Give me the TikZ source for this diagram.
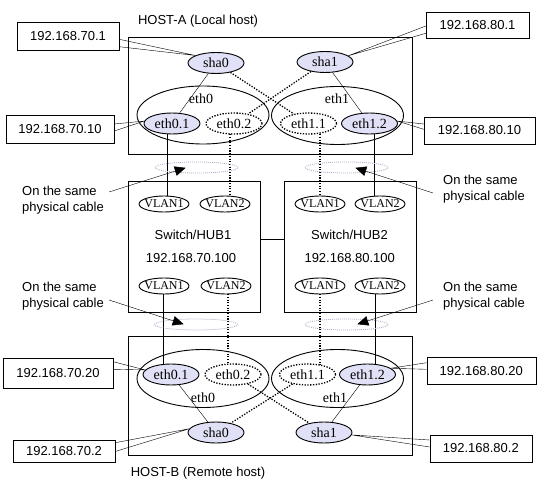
\documentclass[tikz,border=0pt]{standalone}
\usepackage{fontspec}
\setmainfont{Liberation Serif}
\setsansfont{Liberation Sans}
\usetikzlibrary{shapes.geometric,calc}
\pgfdeclarelayer{bg}
\pgfsetlayers{bg,main}
\definecolor{ifcol}{RGB}{224,224,246}
\definecolor{cloudc}{RGB}{175,175,200}
\newcommand{\pointer}[2]{%
  \draw (#1) -- ($(#2)!8pt!(#1)$);
  \filldraw[line width=0.5pt,line join=miter] (#2) -- ($(#2)!10pt!(#1)!4.5pt!90:(#2)$) -- ($(#2)!10pt!(#1)!4.5pt!-90:(#2)$) -- cycle;}
\begin{document}
\begin{tikzpicture}[x=1pt,y=-1pt,line width=0.9pt,
  every node/.style={font=\sffamily\fontsize{13}{16}\selectfont,inner sep=0pt},
  ifc/.style={ellipse,draw,fill=ifcol,font=\rmfamily\fontsize{14}{15}\selectfont,minimum width=56pt,minimum height=21pt},
  ifd/.style={ellipse,draw,fill=white,line width=1.3pt,dash pattern=on 1.3pt off 1.5pt,font=\rmfamily\fontsize{14}{15}\selectfont,minimum width=56pt,minimum height=21pt},
  grp/.style={ellipse,draw,minimum width=132pt,minimum height=58pt},
  grplabel/.style={font=\rmfamily\fontsize{14}{15}\selectfont},
  vlan/.style={ellipse,draw,fill=white,inner xsep=-6pt,font=\rmfamily\fontsize{12}{14}\selectfont,minimum width=50pt,minimum height=16pt},
  ipbox/.style={draw,fill=white},
  frame/.style={draw},
  dots/.style={line width=1.3pt,dash pattern=on 1.3pt off 1.5pt},
  vdots/.style={line width=1.1pt,dash pattern=on 1.1pt off 1.6pt},
  cab/.style={ellipse,draw=cloudc,line width=0.8pt,dash pattern=on 1pt off 1pt,minimum width=83pt,minimum height=11pt},
  note/.style={align=left,anchor=west}
]
\useasboundingbox (0,0) rectangle (551,494);

% host frames
\node[frame,minimum width=284pt,minimum height=116.5pt] (hostA) at (270.5,95.75) {};
\node[frame,minimum width=284pt,minimum height=118.5pt] (hostB) at (270.5,395.75) {};
\node (hostAl) at (198,21) {HOST-A (Local host)};
\node (hostBl) at (198,473) {HOST-B (Remote host)};

% switches
\node[frame,minimum width=132pt,minimum height=130.5pt] (sw1) at (194,247) {};
\node[frame,minimum width=132.7pt,minimum height=130.5pt] (sw2) at (350.35,247) {};
\node (sw1n) at (193,235) {Switch/HUB1};
\node (sw1i) at (191,258) {192.168.70.100};
\node (sw2n) at (349.5,235) {Switch/HUB2};
\node (sw2i) at (349.7,258) {192.168.80.100};
\draw ([yshift=8pt]sw1.east) -- ([yshift=8pt]sw2.west);

\node[vlan] (v1a) at (164,204) {VLAN1};
\node[vlan] (v2a) at (225,204) {VLAN2};
\node[vlan] (v3a) at (320,204) {VLAN1};
\node[vlan] (v4a) at (380,204) {VLAN2};
\node[vlan] (v1b) at (164,286) {VLAN1};
\node[vlan] (v2b) at (226,286) {VLAN2};
\node[vlan] (v3b) at (320,286) {VLAN1};
\node[vlan] (v4b) at (380,286) {VLAN2};

% host A interfaces
\node[grp] (eth0a) at (203,115) {};
\node[grp] (eth1a) at (337.5,115.5) {};
\node[grplabel] (eth0al) at (201,99) {eth0};
\node[grplabel] (eth1al) at (337,99) {eth1};
\node[ifc] (sha0a) at (216,63) {sha0};
\node[ifc] (sha1a) at (325,62) {sha1};
\node[ifc] (eth01a) at (172,123.5) {eth0.1};
\node[ifd] (eth02a) at (234,123.5) {eth0.2};
\node[ifd] (eth11a) at (308.5,123.5) {eth1.1};
\node[ifc] (eth12a) at (369.5,123.5) {eth1.2};

% host B interfaces
\node[grp] (eth0b) at (203,378.5) {};
\node[grp] (eth1b) at (337.5,378.5) {};
\node[grplabel] (eth0bl) at (203,398) {eth0};
\node[grplabel] (eth1bl) at (335,398) {eth1};
\node[ifc] (sha0b) at (216,432.5) {sha0};
\node[ifc] (sha1b) at (324,432.5) {sha1};
\node[ifc] (eth01b) at (171,374.5) {eth0.1};
\node[ifd] (eth02b) at (233,374.5) {eth0.2};
\node[ifd] (eth11b) at (307.5,374.5) {eth1.1};
\node[ifc] (eth12b) at (367.5,374.5) {eth1.2};

% vertical cables (behind nodes)
\begin{pgfonlayer}{bg}
\draw (eth01a -| 167,0) -- (v1a -| 167,0);
\draw[vdots] (eth02a -| 230,0) -- (v2a -| 230,0);
\draw[vdots] (eth11a -| 320,0) -- (v3a -| 320,0);
\draw (eth12a -| 374.5,0) -- (v4a -| 374.5,0);
\draw (v1b -| 163,0) -- (eth01b -| 163,0);
\draw[vdots] (v2b -| 228,0) -- (eth02b -| 228,0);
\draw[vdots] (v3b -| 320,0) -- (eth11b -| 320,0);
\draw (v4b -| 375,0) -- (eth12b -| 375,0);
\end{pgfonlayer}

% logical links
\draw (sha0a) -- (eth01a);
\draw (sha1a) -- (eth12a);
\draw[dots] (sha0a) -- (eth11a);
\draw[dots] (sha1a) -- (eth02a);
\draw (eth01b) -- (sha0b);
\draw (eth12b) -- (sha1b);
\draw[dots] (eth02b) -- (sha1b);
\draw[dots] (eth11b) -- (sha0b);

% cables (cloud outlines)
\node[cab] (cl1) at (196.5,167.5) {};
\node[cab] (cl2) at (346.5,167.5) {};
\node[cab] (cl3) at (196,324.5) {};
\node[cab] (cl4) at (346.5,324.5) {};

% notes
\node[note] (n1) at (22,200.5) {On the same\\physical cable};
\node[note] (n2) at (443,189) {On the same\\physical cable};
\node[note] (n3) at (22,296) {On the same\\physical cable};
\node[note] (n4) at (443,296) {On the same\\physical cable};
\coordinate (n1s) at (109,192);
\coordinate (n2s) at (433,193);
\coordinate (n3s) at (109,300);
\coordinate (n4s) at (433,300);
\coordinate (cl1t) at (185,168);
\coordinate (cl2t) at (356,168);
\coordinate (cl3t) at (183,324);
\coordinate (cl4t) at (358,324);
\pointer{n1s}{cl1t}
\pointer{n2s}{cl2t}
\pointer{n3s}{cl3t}
\pointer{n4s}{cl4t}

% address boxes
\node[ipbox,minimum width=102pt,minimum height=28pt] (b1) at (68,36) {192.168.70.1};
\node[ipbox,minimum width=108pt,minimum height=28pt] (b2) at (60,129) {192.168.70.10};
\node[ipbox,minimum width=103pt,minimum height=26pt] (b3) at (477.5,25) {192.168.80.1};
\node[ipbox,minimum width=111pt,minimum height=27pt] (b4) at (479.5,130.5) {192.168.80.10};
\node[ipbox,minimum width=110pt,minimum height=30pt] (b5) at (58,373) {192.168.70.20};
\node[ipbox,minimum width=102pt,minimum height=22pt] (b6) at (64,451.5) {192.168.70.2};
\node[ipbox,minimum width=109pt,minimum height=27pt] (b7) at (481.3,370.7) {192.168.80.20};
\node[ipbox,minimum width=102pt,minimum height=27pt] (b8) at (480.8,448.3) {192.168.80.2};

% callout pointers
\draw ([yshift=-3.3pt]b1.east) -- (sha0a.160) -- ([yshift=-10.7pt]b1.east);
\draw ([yshift=5pt]b2.east) -- (eth01a.175) -- ([yshift=-2pt]b2.east);
\draw ([yshift=-1pt]b3.west) -- (sha1a.15) -- ([yshift=-8.3pt]b3.west);
\draw ([yshift=6.5pt]b4.west) -- (eth12a.5) -- ([yshift=1.2pt]b4.west);
\draw ([yshift=11.3pt]b5.east) -- (eth01b.170) -- ([yshift=3.7pt]b5.east);
\draw ([yshift=8.8pt]b6.east) -- (sha0b.172) -- ([yshift=0pt]b6.east);
\draw ([yshift=8pt]b7.west) -- (eth12b.15) -- ([yshift=1.4pt]b7.west);
\draw ([yshift=8.3pt]b8.west) -- (sha1b.-5) -- ([yshift=1.3pt]b8.west);
\end{tikzpicture}
\end{document}
